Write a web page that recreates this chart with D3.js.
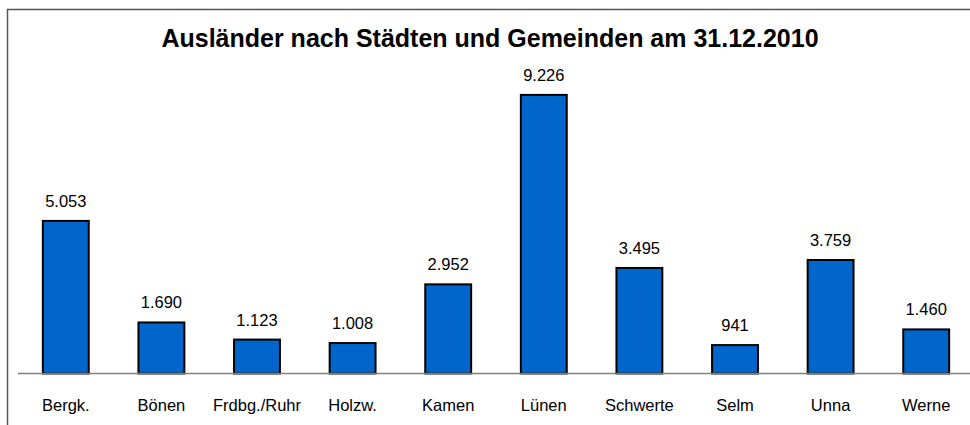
<!DOCTYPE html>
<html>
<head>
<meta charset="utf-8">
<script src="https://cdn.jsdelivr.net/npm/d3@7"></script>
<style>
  body { margin: 0; background: #fff; }
  svg { display: block; font-family: "Liberation Sans", Arial, sans-serif; }
</style>
</head>
<body>
<svg id="chart" width="970" height="425"></svg>
<script>
var staedte = ["Bergk.", "Bönen", "Frdbg./Ruhr", "Holzw.", "Kamen", "Lünen", "Schwerte", "Selm", "Unna", "Werne"];
var auslaender = [5053, 1690, 1123, 1008, 2952, 9226, 3495, 941, 3759, 1460];
var titel = "Ausländer nach Städten und Gemeinden am 31.12.2010";

var width = 970, height = 425;
var baseY = 373.5;

var svg = d3.select("#chart");

// Rahmen
svg.append("rect")
  .attr("x", 7.5).attr("y", 9.5)
  .attr("width", 980).attr("height", 440)
  .attr("fill", "none")
  .attr("stroke", "#555")
  .attr("stroke-width", 1.5);

// Titel
svg.append("text")
  .attr("x", 490).attr("y", 47)
  .attr("text-anchor", "middle")
  .attr("font-size", 25)
  .attr("font-weight", "bold")
  .text(titel);

// Skalen
var xScale = d3.scaleBand()
  .domain(staedte)
  .range([18, 974])
  .paddingInner(0.52)
  .paddingOuter(0.26);

var yScale = d3.scaleLinear()
  .domain([0, 9226])
  .range([baseY, baseY - 278.6]);

var fmt = function(v) { return d3.format(",")(v).replace(/,/g, "."); };

// Balken
svg.selectAll("rect.bar")
  .data(auslaender)
  .enter()
  .append("rect")
  .attr("class", "bar")
  .attr("x", (d, i) => xScale(staedte[i]))
  .attr("y", d => yScale(d))
  .attr("width", xScale.bandwidth())
  .attr("height", d => baseY - yScale(d))
  .attr("fill", "#0066CC")
  .attr("stroke", "#000")
  .attr("stroke-width", 2);

// Grundlinie
var xAxis = d3.axisBottom(xScale).tickSize(0).tickFormat("");
var gx = svg.append("g")
  .attr("transform", "translate(0," + baseY + ")")
  .call(xAxis);
gx.select(".domain").attr("stroke", "#808080").attr("stroke-width", 1.5)
  .attr("d", "M18,0H970");

// Werte
svg.selectAll("text.wert")
  .data(auslaender)
  .enter()
  .append("text")
  .attr("class", "wert")
  .attr("x", (d, i) => xScale(staedte[i]) + xScale.bandwidth() / 2)
  .attr("y", d => yScale(d) - 14)
  .attr("text-anchor", "middle")
  .attr("font-size", 16.5)
  .text(d => fmt(d));

// Kategorien
svg.selectAll("text.kat")
  .data(staedte)
  .enter()
  .append("text")
  .attr("class", "kat")
  .attr("x", d => xScale(d) + xScale.bandwidth() / 2)
  .attr("y", 410.5)
  .attr("text-anchor", "middle")
  .attr("font-size", 16.5)
  .text(d => d);
</script>
</body>
</html>
